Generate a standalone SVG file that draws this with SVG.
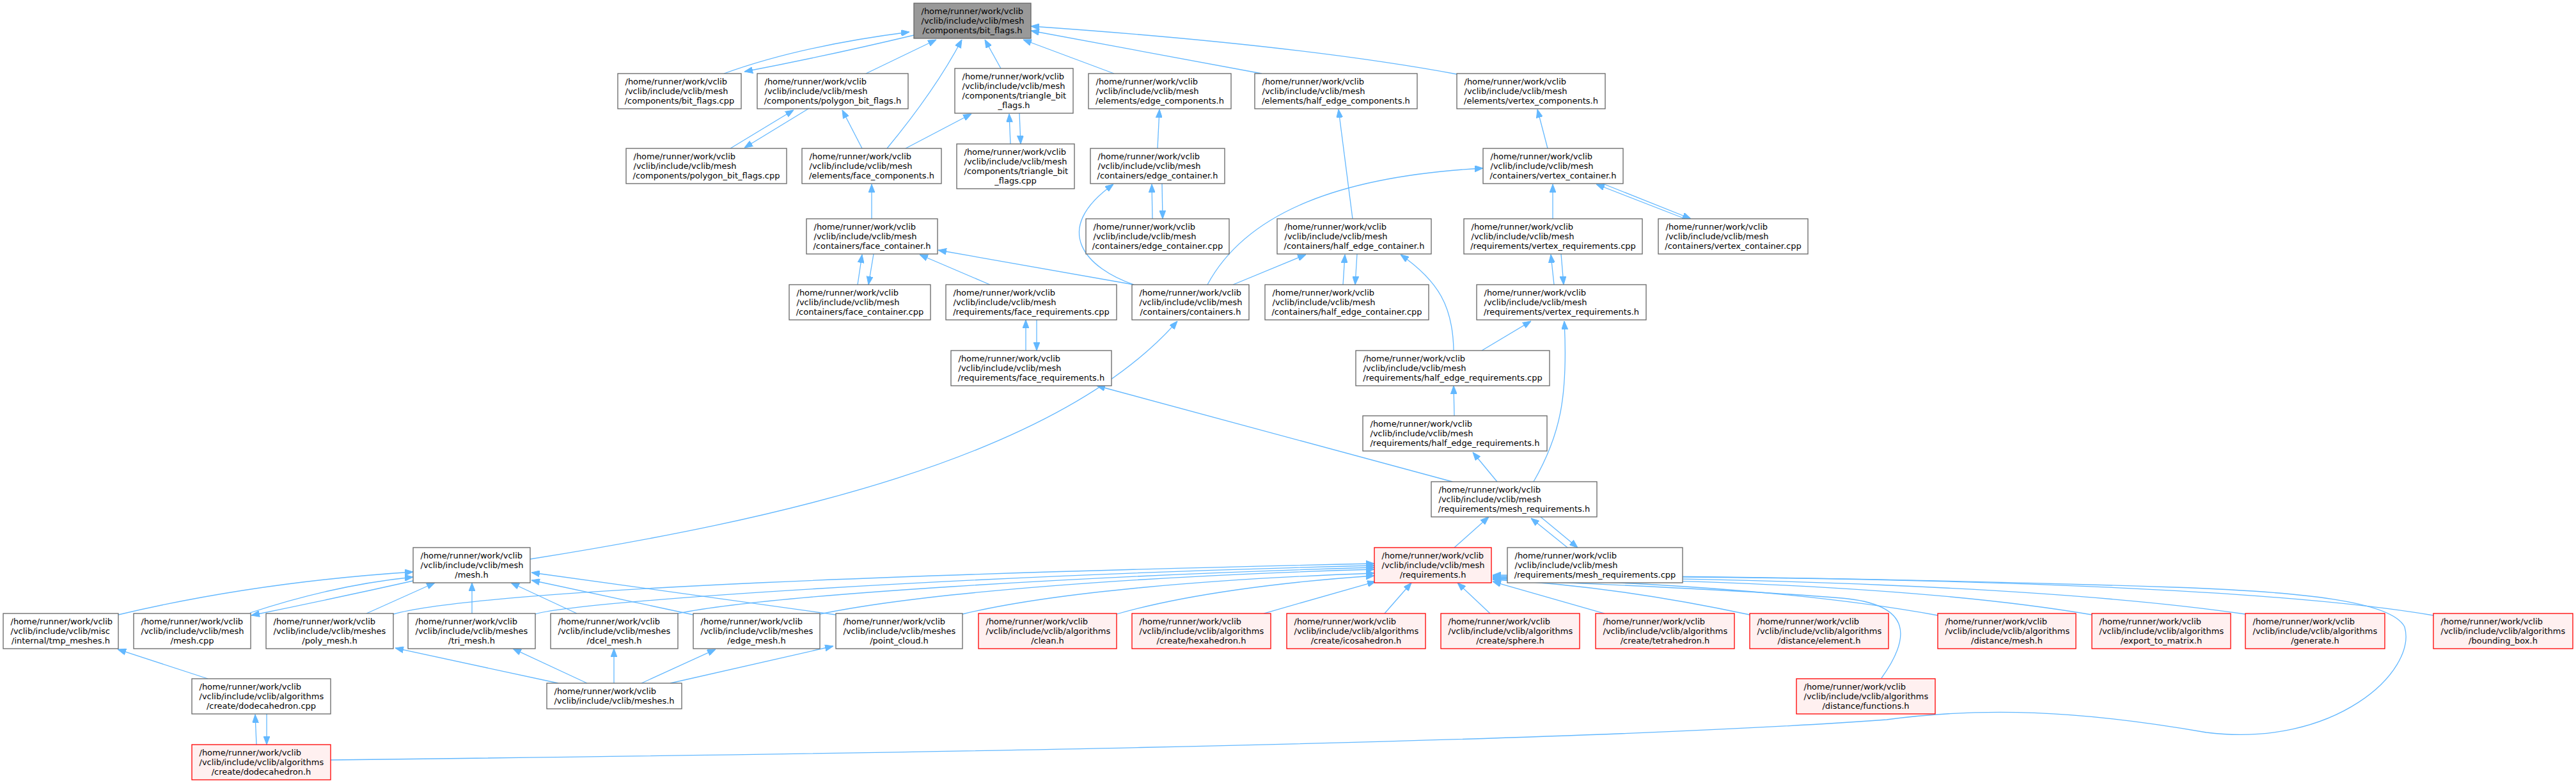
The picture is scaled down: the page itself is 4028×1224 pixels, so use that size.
<svg xmlns="http://www.w3.org/2000/svg" width="4028" height="1224" viewBox="0 0 4028 1224">
<style>
.n rect{fill:#ffffff;stroke:#666666;stroke-width:1.3}
.r rect{fill:#fff0f0;stroke:#ff0000;stroke-width:1.3}
.root rect{fill:#999999;stroke:#666666;stroke-width:1.3}
text{font-family:"DejaVu Sans","Liberation Sans",sans-serif;font-size:13px;fill:#000000}
text.m{text-anchor:middle}
#edges path{fill:none;stroke:#63b8ff;stroke-width:1.3;marker-end:url(#a)}
</style>
<defs>
<marker id="a" viewBox="0 0 13 10" refX="13" refY="5" markerWidth="13" markerHeight="10" markerUnits="userSpaceOnUse" orient="auto"><path d="M0,0L13,5L0,10z" fill="#63b8ff" stroke="#63b8ff" stroke-width="1"/></marker>
</defs>
<rect x="0" y="0" width="4028" height="1224" fill="#ffffff"/>
<g id="edges">
<path d="M1132,115 Q1250,72 1422,50"/>
<path d="M1429,55 Q1290,88 1164,112"/>
<path d="M1354,115 L1464,62"/>
<path d="M1387,232 Q1463,140 1504,62"/>
<path d="M1565,107 L1540,62"/>
<path d="M1742,115 L1600,62"/>
<path d="M1973,115 L1612,48"/>
<path d="M2278,116 Q2030,70 1612,41"/>
<path d="M1142,232 L1241,172"/>
<path d="M1264,170 L1164,231"/>
<path d="M1348,232 L1317,172"/>
<path d="M1416,232 L1519,178"/>
<path d="M1580,225 L1578,178"/>
<path d="M1594,177 L1596,225"/>
<path d="M1810,232 L1813,171"/>
<path d="M1363,342 L1363,288"/>
<path d="M1802,342 L1801,288"/>
<path d="M1817,287 L1818,342"/>
<path d="M1773,445 C1700,420 1640,360 1741,288"/>
<path d="M1341,445 L1348,398"/>
<path d="M1366,397 L1358,445"/>
<path d="M1548,445 L1438,398"/>
<path d="M1773,445 L1467,391"/>
<path d="M1888,445 C1950,330 2100,275 2319,263"/>
<path d="M1928,445 L2042,398"/>
<path d="M1604,548 L1604,500"/>
<path d="M1621,500 L1621,548"/>
<path d="M829,874 C1200,815 1650,720 1841,502"/>
<path d="M2271,753 L1715,603"/>
<path d="M2115,342 L2093,171"/>
<path d="M2420,232 L2404,171"/>
<path d="M2428,342 L2428,288"/>
<path d="M2635,342 L2496,288"/>
<path d="M2506,287 L2644,342"/>
<path d="M2100,445 L2103,398"/>
<path d="M2122,397 L2119,445"/>
<path d="M2273,548 C2272,480 2250,440 2190,398"/>
<path d="M2430,445 L2425,398"/>
<path d="M2441,397 L2445,445"/>
<path d="M2317,548 L2394,502"/>
<path d="M2398,753 C2440,680 2452,620 2446,502"/>
<path d="M2274,650 L2273,603"/>
<path d="M2341,753 L2303,707"/>
<path d="M2274,856 L2328,808"/>
<path d="M2451,856 L2394,810"/>
<path d="M2409,808 L2467,856"/>
<path d="M185,961 Q400,910 646,894"/>
<path d="M391,958 Q520,915 646,902"/>
<path d="M646,908 Q525,935 393,962"/>
<path d="M573,959 L680,911"/>
<path d="M738,959 L738,911"/>
<path d="M902,959 L799,911"/>
<path d="M1084,961 L831,907"/>
<path d="M1307,961 L831,895"/>
<path d="M873,1068 L618,1013"/>
<path d="M918,1068 L802,1014"/>
<path d="M960,1068 L960,1014"/>
<path d="M1003,1068 L1119,1015"/>
<path d="M1048,1068 L1303,1010"/>
<path d="M325,1061 L184,1015"/>
<path d="M401,1164 L399,1117"/>
<path d="M417,1116 L417,1164"/>
<path d="M615,960 C760,920 1500,895 2149,881"/>
<path d="M837,960 C900,940 1500,900 2149,884"/>
<path d="M1060,959 C1200,930 1700,900 2149,887"/>
<path d="M1282,960 C1450,925 1800,900 2149,890"/>
<path d="M1505,960 C1650,925 1900,905 2149,896"/>
<path d="M1746,960 C1850,930 2000,910 2149,900"/>
<path d="M1976,959 L2151,909"/>
<path d="M2165,959 L2207,911"/>
<path d="M2330,959 L2279,911"/>
<path d="M2509,959 L2334,909"/>
<path d="M2736,961 Q2520,915 2334,906"/>
<path d="M2942,1060 C2985,1000 2995,945 2880,935 C2700,920 2450,912 2334,905"/>
<path d="M3030,962 C2800,920 2500,908 2334,904"/>
<path d="M3271,961 C3000,915 2600,905 2334,903"/>
<path d="M3511,960 C3200,915 2700,903 2334,902"/>
<path d="M3805,962 C3500,910 2800,900 2334,901"/>
<path d="M517,1188 C1200,1180 2400,1165 2950,1125 C3100,1105 3250,1110 3450,1145 C3650,1170 3780,1050 3760,980 C3740,940 3600,925 3400,918 C3000,905 2600,900 2334,899"/>
</g>
<g id="n_bit_flags_h" class="root"><rect x="1429" y="5" width="183" height="55"/><text x="1440.5" y="21.5">/home/runner/work/vclib</text><text x="1440.5" y="36.5">/vclib/include/vclib/mesh</text><text class="m" x="1520.5" y="51.5">/components/bit_flags.h</text></g>
<g id="n_bit_flags_cpp" class="n"><rect x="966" y="115" width="193" height="55"/><text x="977.5" y="131.5">/home/runner/work/vclib</text><text x="977.5" y="146.5">/vclib/include/vclib/mesh</text><text class="m" x="1062.5" y="161.5">/components/bit_flags.cpp</text></g>
<g id="n_polygon_bit_flags_h" class="n"><rect x="1184" y="115" width="236" height="55"/><text x="1195.5" y="131.5">/home/runner/work/vclib</text><text x="1195.5" y="146.5">/vclib/include/vclib/mesh</text><text class="m" x="1302" y="161.5">/components/polygon_bit_flags.h</text></g>
<g id="n_triangle_bit_flags_h" class="n"><rect x="1493" y="107" width="185" height="70"/><text x="1504.5" y="123.5">/home/runner/work/vclib</text><text x="1504.5" y="138.5">/vclib/include/vclib/mesh</text><text x="1504.5" y="153.5">/components/triangle_bit</text><text class="m" x="1585.5" y="168.5">_flags.h</text></g>
<g id="n_edge_components_h" class="n"><rect x="1702" y="115" width="223" height="55"/><text x="1713.5" y="131.5">/home/runner/work/vclib</text><text x="1713.5" y="146.5">/vclib/include/vclib/mesh</text><text class="m" x="1813.5" y="161.5">/elements/edge_components.h</text></g>
<g id="n_half_edge_components_h" class="n"><rect x="1962" y="115" width="254" height="55"/><text x="1973.5" y="131.5">/home/runner/work/vclib</text><text x="1973.5" y="146.5">/vclib/include/vclib/mesh</text><text class="m" x="2089" y="161.5">/elements/half_edge_components.h</text></g>
<g id="n_vertex_components_h" class="n"><rect x="2278" y="115" width="232" height="55"/><text x="2289.5" y="131.5">/home/runner/work/vclib</text><text x="2289.5" y="146.5">/vclib/include/vclib/mesh</text><text class="m" x="2394" y="161.5">/elements/vertex_components.h</text></g>
<g id="n_polygon_bit_flags_cpp" class="n"><rect x="979" y="232" width="251" height="55"/><text x="990.5" y="248.5">/home/runner/work/vclib</text><text x="990.5" y="263.5">/vclib/include/vclib/mesh</text><text class="m" x="1104.5" y="278.5">/components/polygon_bit_flags.cpp</text></g>
<g id="n_face_components_h" class="n"><rect x="1254" y="232" width="218" height="55"/><text x="1265.5" y="248.5">/home/runner/work/vclib</text><text x="1265.5" y="263.5">/vclib/include/vclib/mesh</text><text class="m" x="1363" y="278.5">/elements/face_components.h</text></g>
<g id="n_triangle_bit_flags_cpp" class="n"><rect x="1496" y="225" width="184" height="70"/><text x="1507.5" y="241.5">/home/runner/work/vclib</text><text x="1507.5" y="256.5">/vclib/include/vclib/mesh</text><text x="1507.5" y="271.5">/components/triangle_bit</text><text class="m" x="1588" y="286.5">_flags.cpp</text></g>
<g id="n_edge_container_h" class="n"><rect x="1705" y="232" width="210" height="55"/><text x="1716.5" y="248.5">/home/runner/work/vclib</text><text x="1716.5" y="263.5">/vclib/include/vclib/mesh</text><text class="m" x="1810" y="278.5">/containers/edge_container.h</text></g>
<g id="n_vertex_container_h" class="n"><rect x="2319" y="232" width="219" height="55"/><text x="2330.5" y="248.5">/home/runner/work/vclib</text><text x="2330.5" y="263.5">/vclib/include/vclib/mesh</text><text class="m" x="2428.5" y="278.5">/containers/vertex_container.h</text></g>
<g id="n_face_container_h" class="n"><rect x="1261" y="342" width="205" height="55"/><text x="1272.5" y="358.5">/home/runner/work/vclib</text><text x="1272.5" y="373.5">/vclib/include/vclib/mesh</text><text class="m" x="1363.5" y="388.5">/containers/face_container.h</text></g>
<g id="n_edge_container_cpp" class="n"><rect x="1698" y="342" width="224" height="55"/><text x="1709.5" y="358.5">/home/runner/work/vclib</text><text x="1709.5" y="373.5">/vclib/include/vclib/mesh</text><text class="m" x="1810" y="388.5">/containers/edge_container.cpp</text></g>
<g id="n_half_edge_container_h" class="n"><rect x="1997" y="342" width="241" height="55"/><text x="2008.5" y="358.5">/home/runner/work/vclib</text><text x="2008.5" y="373.5">/vclib/include/vclib/mesh</text><text class="m" x="2117.5" y="388.5">/containers/half_edge_container.h</text></g>
<g id="n_vertex_requirements_cpp" class="n"><rect x="2289" y="342" width="279" height="55"/><text x="2300.5" y="358.5">/home/runner/work/vclib</text><text x="2300.5" y="373.5">/vclib/include/vclib/mesh</text><text class="m" x="2428.5" y="388.5">/requirements/vertex_requirements.cpp</text></g>
<g id="n_vertex_container_cpp" class="n"><rect x="2593" y="342" width="234" height="55"/><text x="2604.5" y="358.5">/home/runner/work/vclib</text><text x="2604.5" y="373.5">/vclib/include/vclib/mesh</text><text class="m" x="2710" y="388.5">/containers/vertex_container.cpp</text></g>
<g id="n_face_container_cpp" class="n"><rect x="1234" y="445" width="221" height="55"/><text x="1245.5" y="461.5">/home/runner/work/vclib</text><text x="1245.5" y="476.5">/vclib/include/vclib/mesh</text><text class="m" x="1344.5" y="491.5">/containers/face_container.cpp</text></g>
<g id="n_face_requirements_cpp" class="n"><rect x="1479" y="445" width="267" height="55"/><text x="1490.5" y="461.5">/home/runner/work/vclib</text><text x="1490.5" y="476.5">/vclib/include/vclib/mesh</text><text class="m" x="1612.5" y="491.5">/requirements/face_requirements.cpp</text></g>
<g id="n_containers_h" class="n"><rect x="1770" y="445" width="183" height="55"/><text x="1781.5" y="461.5">/home/runner/work/vclib</text><text x="1781.5" y="476.5">/vclib/include/vclib/mesh</text><text class="m" x="1861.5" y="491.5">/containers/containers.h</text></g>
<g id="n_half_edge_container_cpp" class="n"><rect x="1978" y="445" width="256" height="55"/><text x="1989.5" y="461.5">/home/runner/work/vclib</text><text x="1989.5" y="476.5">/vclib/include/vclib/mesh</text><text class="m" x="2106" y="491.5">/containers/half_edge_container.cpp</text></g>
<g id="n_vertex_requirements_h" class="n"><rect x="2309" y="445" width="265" height="55"/><text x="2320.5" y="461.5">/home/runner/work/vclib</text><text x="2320.5" y="476.5">/vclib/include/vclib/mesh</text><text class="m" x="2441.5" y="491.5">/requirements/vertex_requirements.h</text></g>
<g id="n_face_requirements_h" class="n"><rect x="1487" y="548" width="251" height="55"/><text x="1498.5" y="564.5">/home/runner/work/vclib</text><text x="1498.5" y="579.5">/vclib/include/vclib/mesh</text><text class="m" x="1612.5" y="594.5">/requirements/face_requirements.h</text></g>
<g id="n_half_edge_requirements_cpp" class="n"><rect x="2120" y="548" width="303" height="55"/><text x="2131.5" y="564.5">/home/runner/work/vclib</text><text x="2131.5" y="579.5">/vclib/include/vclib/mesh</text><text class="m" x="2271.5" y="594.5">/requirements/half_edge_requirements.cpp</text></g>
<g id="n_half_edge_requirements_h" class="n"><rect x="2131" y="650" width="288" height="55"/><text x="2142.5" y="666.5">/home/runner/work/vclib</text><text x="2142.5" y="681.5">/vclib/include/vclib/mesh</text><text class="m" x="2275" y="696.5">/requirements/half_edge_requirements.h</text></g>
<g id="n_mesh_requirements_h" class="n"><rect x="2238" y="753" width="259" height="55"/><text x="2249.5" y="769.5">/home/runner/work/vclib</text><text x="2249.5" y="784.5">/vclib/include/vclib/mesh</text><text class="m" x="2367.5" y="799.5">/requirements/mesh_requirements.h</text></g>
<g id="n_mesh_h" class="n"><rect x="646" y="856" width="183" height="55"/><text x="657.5" y="872.5">/home/runner/work/vclib</text><text x="657.5" y="887.5">/vclib/include/vclib/mesh</text><text class="m" x="737.5" y="902.5">/mesh.h</text></g>
<g id="n_requirements_h" class="r"><rect x="2149" y="856" width="183" height="55"/><text x="2160.5" y="872.5">/home/runner/work/vclib</text><text x="2160.5" y="887.5">/vclib/include/vclib/mesh</text><text class="m" x="2240.5" y="902.5">/requirements.h</text></g>
<g id="n_mesh_requirements_cpp" class="n"><rect x="2357" y="856" width="274" height="55"/><text x="2368.5" y="872.5">/home/runner/work/vclib</text><text x="2368.5" y="887.5">/vclib/include/vclib/mesh</text><text class="m" x="2494" y="902.5">/requirements/mesh_requirements.cpp</text></g>
<g id="n_tmp_meshes_h" class="n"><rect x="5" y="959" width="180" height="55"/><text x="16.5" y="975.5">/home/runner/work/vclib</text><text x="16.5" y="990.5">/vclib/include/vclib/misc</text><text class="m" x="95" y="1005.5">/internal/tmp_meshes.h</text></g>
<g id="n_mesh_cpp" class="n"><rect x="209" y="959" width="183" height="55"/><text x="220.5" y="975.5">/home/runner/work/vclib</text><text x="220.5" y="990.5">/vclib/include/vclib/mesh</text><text class="m" x="300.5" y="1005.5">/mesh.cpp</text></g>
<g id="n_poly_mesh_h" class="n"><rect x="416" y="959" width="199" height="55"/><text x="427.5" y="975.5">/home/runner/work/vclib</text><text x="427.5" y="990.5">/vclib/include/vclib/meshes</text><text class="m" x="515.5" y="1005.5">/poly_mesh.h</text></g>
<g id="n_tri_mesh_h" class="n"><rect x="638" y="959" width="199" height="55"/><text x="649.5" y="975.5">/home/runner/work/vclib</text><text x="649.5" y="990.5">/vclib/include/vclib/meshes</text><text class="m" x="737.5" y="1005.5">/tri_mesh.h</text></g>
<g id="n_dcel_mesh_h" class="n"><rect x="861" y="959" width="199" height="55"/><text x="872.5" y="975.5">/home/runner/work/vclib</text><text x="872.5" y="990.5">/vclib/include/vclib/meshes</text><text class="m" x="960.5" y="1005.5">/dcel_mesh.h</text></g>
<g id="n_edge_mesh_h" class="n"><rect x="1084" y="959" width="198" height="55"/><text x="1095.5" y="975.5">/home/runner/work/vclib</text><text x="1095.5" y="990.5">/vclib/include/vclib/meshes</text><text class="m" x="1183" y="1005.5">/edge_mesh.h</text></g>
<g id="n_point_cloud_h" class="n"><rect x="1307" y="959" width="198" height="55"/><text x="1318.5" y="975.5">/home/runner/work/vclib</text><text x="1318.5" y="990.5">/vclib/include/vclib/meshes</text><text class="m" x="1406" y="1005.5">/point_cloud.h</text></g>
<g id="n_clean_h" class="r"><rect x="1530" y="959" width="216" height="55"/><text x="1541.5" y="975.5">/home/runner/work/vclib</text><text x="1541.5" y="990.5">/vclib/include/vclib/algorithms</text><text class="m" x="1638" y="1005.5">/clean.h</text></g>
<g id="n_hexahedron_h" class="r"><rect x="1770" y="959" width="217" height="55"/><text x="1781.5" y="975.5">/home/runner/work/vclib</text><text x="1781.5" y="990.5">/vclib/include/vclib/algorithms</text><text class="m" x="1878.5" y="1005.5">/create/hexahedron.h</text></g>
<g id="n_icosahedron_h" class="r"><rect x="2012" y="959" width="217" height="55"/><text x="2023.5" y="975.5">/home/runner/work/vclib</text><text x="2023.5" y="990.5">/vclib/include/vclib/algorithms</text><text class="m" x="2120.5" y="1005.5">/create/icosahedron.h</text></g>
<g id="n_sphere_h" class="r"><rect x="2253" y="959" width="217" height="55"/><text x="2264.5" y="975.5">/home/runner/work/vclib</text><text x="2264.5" y="990.5">/vclib/include/vclib/algorithms</text><text class="m" x="2361.5" y="1005.5">/create/sphere.h</text></g>
<g id="n_tetrahedron_h" class="r"><rect x="2495" y="959" width="217" height="55"/><text x="2506.5" y="975.5">/home/runner/work/vclib</text><text x="2506.5" y="990.5">/vclib/include/vclib/algorithms</text><text class="m" x="2603.5" y="1005.5">/create/tetrahedron.h</text></g>
<g id="n_element_h" class="r"><rect x="2736" y="959" width="217" height="55"/><text x="2747.5" y="975.5">/home/runner/work/vclib</text><text x="2747.5" y="990.5">/vclib/include/vclib/algorithms</text><text class="m" x="2844.5" y="1005.5">/distance/element.h</text></g>
<g id="n_distance_mesh_h" class="r"><rect x="3030" y="959" width="216" height="55"/><text x="3041.5" y="975.5">/home/runner/work/vclib</text><text x="3041.5" y="990.5">/vclib/include/vclib/algorithms</text><text class="m" x="3138" y="1005.5">/distance/mesh.h</text></g>
<g id="n_export_to_matrix_h" class="r"><rect x="3271" y="959" width="217" height="55"/><text x="3282.5" y="975.5">/home/runner/work/vclib</text><text x="3282.5" y="990.5">/vclib/include/vclib/algorithms</text><text class="m" x="3379.5" y="1005.5">/export_to_matrix.h</text></g>
<g id="n_generate_h" class="r"><rect x="3511" y="959" width="218" height="55"/><text x="3522.5" y="975.5">/home/runner/work/vclib</text><text x="3522.5" y="990.5">/vclib/include/vclib/algorithms</text><text class="m" x="3620" y="1005.5">/generate.h</text></g>
<g id="n_bounding_box_h" class="r"><rect x="3805" y="959" width="218" height="55"/><text x="3816.5" y="975.5">/home/runner/work/vclib</text><text x="3816.5" y="990.5">/vclib/include/vclib/algorithms</text><text class="m" x="3914" y="1005.5">/bounding_box.h</text></g>
<g id="n_dodecahedron_cpp" class="n"><rect x="300" y="1061" width="217" height="55"/><text x="311.5" y="1077.5">/home/runner/work/vclib</text><text x="311.5" y="1092.5">/vclib/include/vclib/algorithms</text><text class="m" x="408.5" y="1107.5">/create/dodecahedron.cpp</text></g>
<g id="n_meshes_h" class="n"><rect x="855" y="1068" width="211" height="40"/><text x="866.5" y="1084.5">/home/runner/work/vclib</text><text class="m" x="960.5" y="1099.5">/vclib/include/vclib/meshes.h</text></g>
<g id="n_functions_h" class="r"><rect x="2809" y="1061" width="217" height="55"/><text x="2820.5" y="1077.5">/home/runner/work/vclib</text><text x="2820.5" y="1092.5">/vclib/include/vclib/algorithms</text><text class="m" x="2917.5" y="1107.5">/distance/functions.h</text></g>
<g id="n_dodecahedron_h" class="r"><rect x="300" y="1164" width="217" height="55"/><text x="311.5" y="1180.5">/home/runner/work/vclib</text><text x="311.5" y="1195.5">/vclib/include/vclib/algorithms</text><text class="m" x="408.5" y="1210.5">/create/dodecahedron.h</text></g>
</svg>
